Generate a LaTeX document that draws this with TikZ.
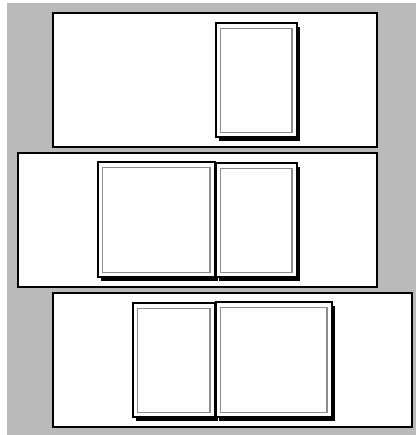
\documentclass[tikz,border=0pt]{standalone}
\usepackage{tikz}
\usetikzlibrary{calc}
\begin{document}
\begin{tikzpicture}[x=1pt,y=-1pt,line join=miter,
  panel/.style={draw=black,fill=white,line width=1.2pt},
  sheet/.style={draw=black,fill=white,line width=1.2pt},
  margin/.style={draw=black!45,line width=1.3pt}]
 \useasboundingbox (0,0) rectangle (416,435);
 \fill[black!27] (7,3) rectangle (416,435);
 \draw[panel] (53,13) rectangle (377,147);
 \draw[panel] (18,153) rectangle (377,287);
 \draw[panel] (53,293) rectangle (412,427);
 \foreach \l/\t/\r/\b in {216/23/297/137,98/162/215/277,216/163/297/277,
    133/303/215/417,216/302/332/417}{
    \fill (\l+3,\t+4) rectangle (\r+3,\b+4);
 }
 \foreach \l/\t/\r/\b in {216/23/297/137,98/162/215/277,216/163/297/277,
    133/303/215/417,216/302/332/417}{
    \draw[sheet] (\l,\t) rectangle (\r,\b);
    \draw[margin] (\l+4.5,\t+5.5) rectangle (\r-5,\b-4.5);
 }
\end{tikzpicture}
\end{document}
